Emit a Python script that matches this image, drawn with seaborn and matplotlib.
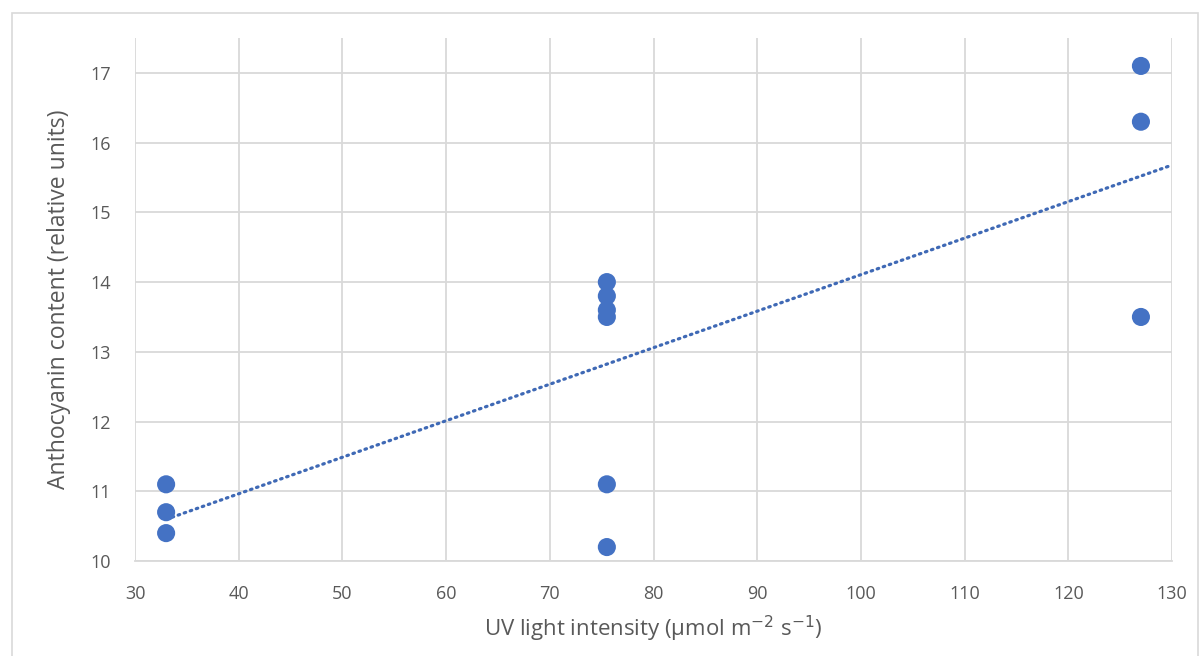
import numpy as np
import pandas as pd
import matplotlib
matplotlib.use("Agg")
import matplotlib.pyplot as plt
import seaborn as sns
from matplotlib.patches import Rectangle

# dane
uv_intensity = [33, 33, 33, 75.5, 75.5, 75.5, 75.5, 75.5, 75.5, 127, 127, 127]
anthocyanin = [11.1, 10.7, 10.4, 14.0, 13.8, 13.6, 13.5, 11.1, 10.2, 17.1, 16.3, 13.5]
x_ticks = [30, 40, 50, 60, 70, 80, 90, 100, 110, 120, 130]
y_ticks = [10, 11, 12, 13, 14, 15, 16, 17]

df = pd.DataFrame({"uv": uv_intensity, "anth": anthocyanin})

sns.set_style("whitegrid")
plt.rcParams['font.family'] = ['Open Sans', 'DejaVu Sans']

blue = "#4472C4"
grid_col = "#D9D9D9"
txt_col = "#595959"

fig = plt.figure(figsize=(12, 6.56), dpi=100)
ax = fig.add_axes([0.1125, 0.1448, 0.8642, 0.7972])

# linia trendu (regresja liniowa)
a, b = np.polyfit(df["uv"], df["anth"], 1)
xt = np.array([min(uv_intensity), x_ticks[-1]])
ax.plot(xt, a * xt + b, color="#3F69B5", lw=2.3, linestyle=(0, (0.5, 1.5)),
        dash_capstyle="round", zorder=2)

sns.scatterplot(data=df, x="uv", y="anth", ax=ax, s=170, color=blue,
                edgecolor="none", zorder=3)

ax.set_xlim(30, 130)
ax.set_ylim(10, 17.5)
ax.set_xticks(x_ticks)
ax.set_yticks(y_ticks)
ax.grid(True, color=grid_col, lw=1.3)
for s in ["top", "right", "left"]:
    ax.spines[s].set_visible(False)
ax.spines["bottom"].set_color(grid_col)
ax.spines["bottom"].set_linewidth(1.3)
ax.tick_params(axis="both", length=0, labelsize=13, colors=txt_col)
ax.tick_params(axis="x", pad=17)
ax.tick_params(axis="y", pad=17)

ax.set_xlabel("UV light intensity (µmol m$^{-2}$ s$^{-1}$)", fontsize=16,
              color=txt_col, labelpad=8)
ax.set_ylabel("Anthocyanin content (relative units)", fontsize=16.5,
              color=txt_col, labelpad=14)

# ramka obszaru wykresu
fig.patches.append(Rectangle((12 / 1200, -0.05), 1186 / 1200, 1.05 - 13 / 656,
                             transform=fig.transFigure, fill=False,
                             edgecolor="#D9D9D9", lw=1.2))

fig.savefig("out.png", dpi=100)
